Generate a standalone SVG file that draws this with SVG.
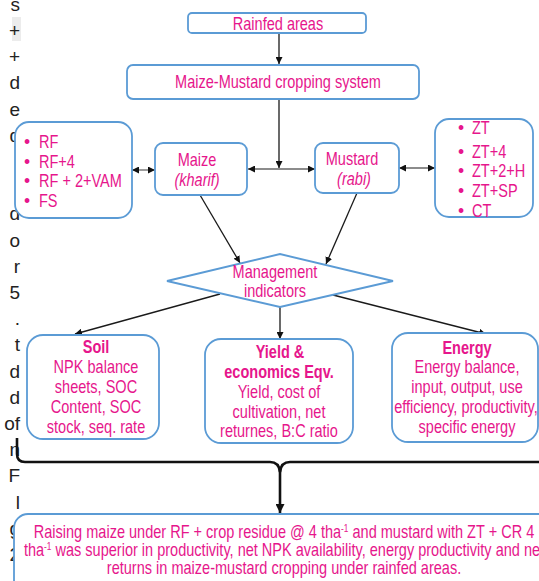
<svg xmlns="http://www.w3.org/2000/svg" width="539" height="581" viewBox="0 0 539 581">
  <style>
    .box { fill: #ffffff; stroke: #5B9BD5; stroke-width: 1.8; }
    .t { font-family: "Liberation Sans", Arial, sans-serif; font-size: 17.5px; fill: #E6168C; }
    .c { text-anchor: middle; }
    .b { font-weight: bold; }
    .i { font-style: italic; }
    .edge { fill: none; stroke: #1a1a1a; stroke-width: 1.3; }
    .gedge { fill: none; stroke: #666666; stroke-width: 1.3; }
    .brace { fill: none; stroke: #111111; stroke-width: 2.6; }
    .m { font-family: "Liberation Sans", Arial, sans-serif; font-size: 19px; fill: #222222; text-anchor: end; }
  </style>
  <defs>
    <marker id="ah" viewBox="0 0 10 10" refX="10" refY="5" markerWidth="7" markerHeight="7" markerUnits="userSpaceOnUse" orient="auto-start-reverse">
      <path d="M0,0 L10,5 L0,10 z" fill="#111111"/>
    </marker>
    <marker id="ahb" viewBox="0 0 10 10" refX="10" refY="5" markerWidth="9" markerHeight="9" markerUnits="userSpaceOnUse" orient="auto">
      <path d="M0,0 L10,5 L0,10 z" fill="#111111"/>
    </marker>
  </defs>

  <!-- cropped page text at left margin -->
  <g id="margin-text">
    <rect x="12" y="17" width="9" height="24" fill="#ececec"/>
    <text class="m" x="20" y="11">s</text>
    <text class="m" x="20" y="37">+</text>
    <text class="m" x="20" y="63">+</text>
    <text class="m" x="20" y="89">d</text>
    <text class="m" x="20" y="116">e</text>
    <text class="m" x="20" y="142">d</text>
    <text class="m" x="20" y="220">d</text>
    <text class="m" x="20" y="247">o</text>
    <text class="m" x="20" y="273">r</text>
    <text class="m" x="20" y="299">5</text>
    <text class="m" x="20" y="325">.</text>
    <text class="m" x="20" y="351">t</text>
    <text class="m" x="20" y="378">d</text>
    <text class="m" x="20" y="404">d</text>
    <text class="m" x="20" y="430">of</text>
    <text class="m" x="20" y="456">n</text>
    <text class="m" x="20" y="482">F</text>
    <text class="m" x="20" y="509">l</text>
    <text class="m" x="20" y="535">g</text>
    <text class="m" x="20" y="561">2</text>
  </g>

  <g id="connectors">
    <line class="edge" x1="279" y1="33" x2="279" y2="64" marker-end="url(#ah)"/>
    <line class="edge" x1="279" y1="99" x2="279" y2="168" marker-end="url(#ah)"/>
    <line class="gedge" x1="248" y1="169" x2="315" y2="169" marker-start="url(#ah)" marker-end="url(#ah)"/>
    <line class="gedge" x1="132" y1="170" x2="155" y2="170" marker-start="url(#ah)" marker-end="url(#ah)"/>
    <line class="gedge" x1="399" y1="168" x2="435" y2="168" marker-start="url(#ah)" marker-end="url(#ah)"/>
    <line class="edge" x1="200" y1="195" x2="240" y2="263" marker-end="url(#ah)"/>
    <line class="edge" x1="357" y1="193" x2="326" y2="264" marker-end="url(#ah)"/>
    <line class="edge" x1="220" y1="294" x2="75" y2="334" marker-end="url(#ah)"/>
    <line class="edge" x1="280" y1="307" x2="280" y2="339" marker-end="url(#ah)"/>
    <line class="edge" x1="333" y1="295" x2="486" y2="334" marker-end="url(#ah)"/>
    <path class="brace" d="M17,438 L17,454 Q17,462 25,462 L270,462 Q279,462 280,472 Q281,462 290,462 L545,462"/>
    <line class="brace" x1="280" y1="470" x2="280" y2="513" marker-end="url(#ahb)"/>
  </g>

  <g id="rainfed">
    <rect class="box" x="188" y="13" width="178" height="20" rx="4"/>
    <text class="t c" transform="translate(278,30) scale(0.83,1)">Rainfed areas</text>
  </g>

  <g id="system">
    <rect class="box" x="127" y="65" width="292" height="34" rx="6"/>
    <text class="t c" transform="translate(278,88) scale(0.83,1)">Maize-Mustard cropping system</text>
  </g>

  <g id="maize-options">
    <rect class="box" x="15" y="122" width="117" height="96" rx="14"/>
    <g class="t">
      <text x="24" y="148">•</text><text transform="translate(39,148) scale(0.83,1)">RF</text>
      <text x="24" y="168">•</text><text transform="translate(39,168) scale(0.83,1)">RF+4</text>
      <text x="24" y="187">•</text><text transform="translate(39,187) scale(0.83,1)">RF + 2+VAM</text>
      <text x="24" y="207">•</text><text transform="translate(39,207) scale(0.83,1)">FS</text>
    </g>
  </g>

  <g id="maize">
    <rect class="box" x="155" y="143" width="92" height="52" rx="8"/>
    <text class="t c" transform="translate(197,166) scale(0.83,1)">Maize</text>
    <text class="t c i" transform="translate(197,186) scale(0.83,1)">(kharif)</text>
  </g>

  <g id="mustard">
    <rect class="box" x="315" y="143" width="84" height="50" rx="8"/>
    <text class="t c" transform="translate(352,165) scale(0.83,1)">Mustard</text>
    <text class="t c i" transform="translate(354,185) scale(0.83,1)">(rabi)</text>
  </g>

  <g id="mustard-options">
    <rect class="box" x="435" y="119" width="98" height="98" rx="14"/>
    <g class="t">
      <text x="458" y="134">•</text><text transform="translate(472,134) scale(0.83,1)">ZT</text>
      <text x="458" y="158">•</text><text transform="translate(472,158) scale(0.83,1)">ZT+4</text>
      <text x="458" y="177">•</text><text transform="translate(472,177) scale(0.83,1)">ZT+2+H</text>
      <text x="458" y="197">•</text><text transform="translate(472,197) scale(0.83,1)">ZT+SP</text>
      <text x="458" y="217">•</text><text transform="translate(472,217) scale(0.83,1)">CT</text>
    </g>
  </g>

  <g id="management">
    <polygon points="167,281 280,254 393,281 280,307" fill="#ffffff" stroke="#5B9BD5" stroke-width="1.8"/>
    <text class="t c" transform="translate(275,278) scale(0.83,1)">Management</text>
    <text class="t c" transform="translate(275,297) scale(0.83,1)">indicators</text>
  </g>

  <g id="soil">
    <rect class="box" x="27" y="335" width="132" height="104" rx="16"/>
    <text class="t c b" transform="translate(96,353) scale(0.83,1)">Soil</text>
    <text class="t c" transform="translate(96,373) scale(0.83,1)">NPK balance</text>
    <text class="t c" transform="translate(96,393) scale(0.83,1)">sheets, SOC</text>
    <text class="t c" transform="translate(96,413) scale(0.83,1)">Content, SOC</text>
    <text class="t c" transform="translate(96,433) scale(0.83,1)">stock, seq. rate</text>
  </g>

  <g id="yield">
    <rect class="box" x="205" y="339" width="148" height="104" rx="16"/>
    <text class="t c b" transform="translate(280,358) scale(0.83,1)">Yield &amp;</text>
    <text class="t c b" transform="translate(279,378) scale(0.83,1)">economics Eqv.</text>
    <text class="t c" transform="translate(279,398) scale(0.83,1)">Yield, cost of</text>
    <text class="t c" transform="translate(279,418) scale(0.83,1)">cultivation, net</text>
    <text class="t c" transform="translate(279,437) scale(0.83,1)">returnes, B:C ratio</text>
  </g>

  <g id="energy">
    <rect class="box" x="392" y="333" width="146" height="109" rx="16"/>
    <text class="t c b" transform="translate(467,354) scale(0.83,1)">Energy</text>
    <text class="t c" transform="translate(467,373) scale(0.83,1)">Energy balance,</text>
    <text class="t c" transform="translate(467,393) scale(0.83,1)">input, output, use</text>
    <text class="t c" transform="translate(466,413) scale(0.83,1)">efficiency, productivity,</text>
    <text class="t c" transform="translate(467,433) scale(0.83,1)">specific energy</text>
  </g>

  <g id="conclusion">
    <rect class="box" x="14" y="514" width="540" height="80" rx="14"/>
    <text class="t c" transform="translate(284,538) scale(0.83,1)">Raising maize under RF + crop residue @ 4 tha<tspan font-size="10" dy="-6">-1</tspan><tspan dy="6"> and mustard with ZT + CR 4</tspan></text>
    <text class="t c" transform="translate(284,556) scale(0.83,1)">tha<tspan font-size="10" dy="-6">-1</tspan><tspan dy="6"> was superior in productivity, net NPK availability, energy productivity and net</tspan></text>
    <text class="t c" transform="translate(284,574) scale(0.83,1)">returns in maize-mustard cropping under rainfed areas.</text>
  </g>
</svg>
